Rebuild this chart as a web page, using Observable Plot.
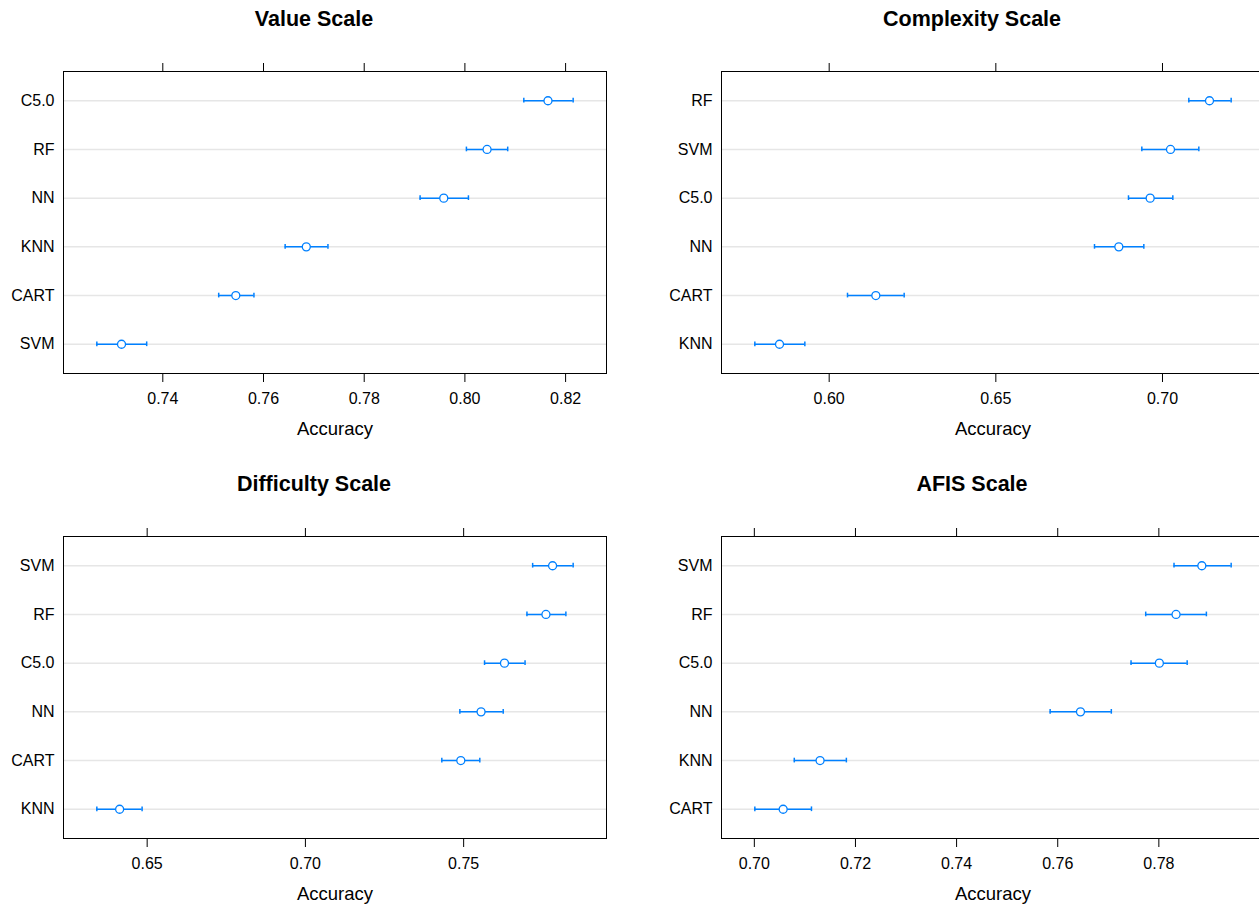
<!DOCTYPE html>
<html>
<head>
<meta charset="utf-8">
<script src="https://cdn.jsdelivr.net/npm/d3@7"></script>
<script src="https://cdn.jsdelivr.net/npm/@observablehq/plot@0.6"></script>
<style>
  html, body { margin: 0; padding: 0; background: white; }
  #wrap { position: relative; width: 1259px; height: 905px; overflow: hidden; background: white; }
  .panel { position: absolute; width: 628px; }
  .title { height: 38px; line-height: 38px; text-align: center; font-family: "Liberation Sans", Arial, Helvetica, sans-serif; font-weight: bold; font-size: 21.5px; color: black; }
  svg { display: block; }
</style>
</head>
<body>
<div id="wrap"></div>
<script>
// ---- Data ----
const xLabel = "Accuracy";

const valueTitle = "Value Scale";
const valueModels = ["C5.0", "RF", "NN", "KNN", "CART", "SVM"];
const valueMean = [0.8165, 0.8044, 0.7958, 0.7685, 0.7545, 0.7318];
const valueLo   = [0.8117, 0.8003, 0.7911, 0.7643, 0.7511, 0.7269];
const valueHi   = [0.8215, 0.8085, 0.8007, 0.7728, 0.7581, 0.7368];
const valueTicks = [0.74, 0.76, 0.78, 0.80, 0.82];

const complexityTitle = "Complexity Scale";
const complexityModels = ["RF", "SVM", "C5.0", "NN", "CART", "KNN"];
const complexityMean = [0.7141, 0.7024, 0.6963, 0.6869, 0.6140, 0.5851];
const complexityLo   = [0.7079, 0.6938, 0.6898, 0.6796, 0.6055, 0.5777];
const complexityHi   = [0.7206, 0.7109, 0.7031, 0.6944, 0.6225, 0.5927];
const complexityTicks = [0.60, 0.65, 0.70];

const difficultyTitle = "Difficulty Scale";
const difficultyModels = ["SVM", "RF", "C5.0", "NN", "CART", "KNN"];
const difficultyMean = [0.7781, 0.7760, 0.7629, 0.7555, 0.7491, 0.6413];
const difficultyLo   = [0.7718, 0.7700, 0.7566, 0.7488, 0.7431, 0.6341];
const difficultyHi   = [0.7846, 0.7823, 0.7694, 0.7625, 0.7551, 0.6484];
const difficultyTicks = [0.65, 0.70, 0.75];

const afisTitle = "AFIS Scale";
const afisModels = ["SVM", "RF", "C5.0", "NN", "KNN", "CART"];
const afisMean = [0.7885, 0.7834, 0.7801, 0.7645, 0.7130, 0.7057];
const afisLo   = [0.7830, 0.7774, 0.7745, 0.7585, 0.7079, 0.7001];
const afisHi   = [0.7943, 0.7894, 0.7856, 0.7706, 0.7182, 0.7113];
const afisTicks = [0.70, 0.72, 0.74, 0.76, 0.78];

// ---- Drawing ----
const FONT = '"Liberation Sans", Arial, Helvetica, sans-serif';
const BLUE = "#0080ff";

function panel(title, models, mean, lo, hi, ticks, left, top) {
  const data = models.map((m, i) => ({model: m, mean: mean[i], lo: lo[i], hi: hi[i]}));
  const mn = d3.min(lo), mx = d3.max(hi), pad = (mx - mn) * 0.07;
  const plot = Plot.plot({
    width: 628,
    height: 405,
    marginLeft: 63,
    marginRight: 22,
    marginTop: 33,
    marginBottom: 70,
    style: {fontFamily: FONT, fontSize: "16px", color: "black", background: "white", overflow: "visible"},
    x: {domain: [mn - pad, mx + pad]},
    y: {type: "band", domain: models, paddingInner: 0, paddingOuter: 0.1, round: false},
    marks: [
      Plot.ruleY(models, {stroke: "#e6e6e6", strokeWidth: 1.5}),
      Plot.frame({stroke: "black", strokeWidth: 1}),
      Plot.axisX({anchor: "top", ticks: ticks, tickSize: 9, tickFormat: () => "", label: null}),
      Plot.axisX({anchor: "bottom", ticks: ticks, tickSize: 9, tickPadding: 10, tickFormat: d3.format(".2f"), label: null, fontSize: 16}),
      Plot.axisY({tickSize: 0, tickPadding: 9, label: null, fontSize: 16}),
      Plot.ruleY(data, {y: "model", x1: "lo", x2: "hi", stroke: BLUE, strokeWidth: 1.5}),
      Plot.tickX(data, {x: "lo", y: "model", stroke: BLUE, strokeWidth: 1.5, insetTop: 22, insetBottom: 22}),
      Plot.tickX(data, {x: "hi", y: "model", stroke: BLUE, strokeWidth: 1.5, insetTop: 22, insetBottom: 22}),
      Plot.dot(data, {x: "mean", y: "model", r: 4, stroke: BLUE, fill: "white", strokeWidth: 1.3}),
      Plot.text([xLabel], {text: d => d, frameAnchor: "bottom", lineAnchor: "top", dy: 48, fontSize: 18.5, fill: "black"})
    ]
  });
  const div = document.createElement("div");
  div.className = "panel";
  div.style.left = left + "px";
  div.style.top = top + "px";
  const t = document.createElement("div");
  t.className = "title";
  t.textContent = title;
  div.appendChild(t);
  div.appendChild(plot);
  document.getElementById("wrap").appendChild(div);
}

panel(valueTitle, valueModels, valueMean, valueLo, valueHi, valueTicks, 0, 0);
panel(complexityTitle, complexityModels, complexityMean, complexityLo, complexityHi, complexityTicks, 658, 0);
panel(difficultyTitle, difficultyModels, difficultyMean, difficultyLo, difficultyHi, difficultyTicks, 0, 465);
panel(afisTitle, afisModels, afisMean, afisLo, afisHi, afisTicks, 658, 465);
</script>
</body>
</html>
